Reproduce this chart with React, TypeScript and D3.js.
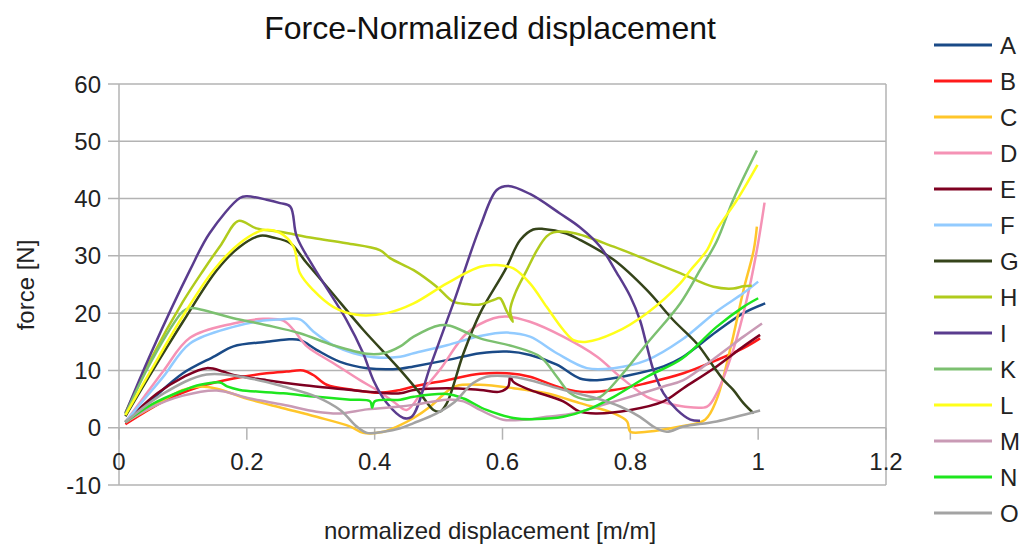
import * as d3 from "d3";

// x = normalized displacement [m/m], y = force [N]
const seriesNames = ["A", "B", "C", "D", "E", "F", "G", "H", "I", "K", "L", "M", "N", "O"];

const seriesA = [[0.01,0.9],[0.05,4.8],[0.1,9.5],[0.15,12.5],[0.179,14.2],[0.231,15],[0.262,15.4],[0.283,15.3],[0.309,13.6],[0.346,11.5],[0.388,10.4],[0.44,10.3],[0.461,10.7],[0.513,11.8],[0.565,13],[0.607,13.3],[0.643,12.7],[0.685,11],[0.721,8.6],[0.748,8.3],[0.8,9.2],[0.852,10.7],[0.88,12.2],[0.935,16.8],[0.977,20],[1.011,21.7]];
const seriesB = [[0.01,0.6],[0.075,4.9],[0.127,7.2],[0.179,8.6],[0.231,9.5],[0.262,9.8],[0.288,10],[0.304,9.2],[0.325,7.5],[0.367,6.6],[0.408,6.1],[0.44,6.6],[0.461,7.2],[0.513,8.3],[0.565,9.4],[0.607,9.5],[0.643,8.9],[0.685,7.2],[0.721,6.3],[0.774,6.6],[0.826,7.8],[0.883,9.5],[0.935,11.8],[0.977,13.9],[1.003,15.6]];
const seriesC = [[0.01,1],[0.05,3.5],[0.1,6.6],[0.127,7.2],[0.153,6.8],[0.205,4.9],[0.257,3.4],[0.309,1.9],[0.362,0.2],[0.382,-0.9],[0.414,-0.7],[0.435,0.2],[0.461,1.7],[0.487,3.7],[0.513,6.3],[0.528,7.3],[0.565,7.5],[0.617,6.9],[0.669,6],[0.721,4.3],[0.774,2.5],[0.795,1.1],[0.8,-0.7],[0.826,-0.7],[0.878,0.2],[0.917,1.4],[0.935,4.9],[0.956,13.6],[0.977,24],[0.993,31],[0.998,35.1]];
const seriesD = [[0.01,1],[0.04,5.5],[0.07,10],[0.111,15.7],[0.179,18.2],[0.226,19],[0.257,18.7],[0.273,17.1],[0.294,14.2],[0.335,11.3],[0.377,8.3],[0.403,6.6],[0.43,4.5],[0.45,3.1],[0.476,6.6],[0.502,10.1],[0.544,16.5],[0.586,19.1],[0.607,19.4],[0.643,18.5],[0.695,15.9],[0.748,12.4],[0.784,8.9],[0.826,5.4],[0.857,4.3],[0.883,3.7],[0.92,3.7],[0.935,6],[0.961,13.6],[0.982,22.3],[0.998,31],[1.01,39.3]];
const seriesE = [[0.01,1],[0.06,6],[0.1,8.8],[0.137,10.4],[0.163,9.8],[0.179,9.2],[0.231,8.3],[0.283,7.5],[0.335,6.9],[0.388,6.3],[0.44,6],[0.461,6.6],[0.513,6.9],[0.565,6.6],[0.596,6.3],[0.609,7.2],[0.612,8.9],[0.617,8],[0.643,6.6],[0.695,4.6],[0.721,2.8],[0.748,2.5],[0.8,3.1],[0.852,4.6],[0.883,6.9],[0.935,10.7],[0.977,14.2],[1.003,16.2]];
const seriesF = [[0.01,1],[0.04,5],[0.07,9],[0.111,14.7],[0.179,17.6],[0.226,18.7],[0.252,18.9],[0.283,18.9],[0.304,16.8],[0.335,14.4],[0.367,13],[0.398,12.3],[0.44,12.4],[0.461,13],[0.513,14.4],[0.565,16],[0.607,16.6],[0.643,15.9],[0.685,13],[0.732,10.4],[0.774,10.4],[0.826,11.8],[0.88,15.3],[0.935,20.3],[0.977,23.5],[1.0,25.5]];
const seriesG = [[0.01,2],[0.05,9.5],[0.1,18.5],[0.153,27.5],[0.189,31.6],[0.221,33.5],[0.241,33.2],[0.268,32.2],[0.294,28.7],[0.33,24],[0.382,17.1],[0.435,10.7],[0.471,6],[0.492,3.1],[0.502,2.8],[0.513,4.3],[0.539,13],[0.565,20],[0.604,27.5],[0.628,32.8],[0.648,34.6],[0.664,34.7],[0.7,33.9],[0.721,32.8],[0.774,29.3],[0.826,24],[0.867,18.8],[0.904,14.7],[0.93,10.7],[0.946,8.3],[0.961,6.6],[0.977,4.3],[0.993,2.5]];
const seriesH = [[0.01,2.6],[0.05,12],[0.1,22],[0.132,27.5],[0.16,32],[0.187,36.1],[0.215,34.8],[0.252,34.2],[0.304,33.1],[0.356,32.2],[0.408,31],[0.424,29.6],[0.461,27.5],[0.497,24.6],[0.523,22],[0.544,21.6],[0.565,21.5],[0.586,22.3],[0.596,22.6],[0.606,20.5],[0.616,18.5],[0.612,20.5],[0.62,23.5],[0.638,27.5],[0.654,31],[0.669,33.4],[0.68,34.1],[0.711,34],[0.774,31.6],[0.826,29.3],[0.878,27],[0.93,24.6],[0.961,24.3],[0.977,24.7],[0.99,24.8]];
const seriesI = [[0.01,2.5],[0.05,13],[0.111,27.5],[0.142,34],[0.189,40.1],[0.2,40.4],[0.231,39.8],[0.252,39.2],[0.268,38.6],[0.278,33.4],[0.304,28.1],[0.356,18.8],[0.382,13],[0.398,8.3],[0.419,4.3],[0.445,1.7],[0.458,1.9],[0.487,10.7],[0.523,21.7],[0.565,35.1],[0.591,41.5],[0.609,42.2],[0.643,40.8],[0.69,37.4],[0.721,35],[0.753,31.6],[0.779,27],[0.8,22.9],[0.815,18.8],[0.826,14.2],[0.836,10.1],[0.852,6],[0.873,3.1],[0.894,1.4],[0.909,1.2]];
const seriesK = [[0.01,2.3],[0.05,11.5],[0.1,20.3],[0.111,20.9],[0.179,19.1],[0.231,17.9],[0.283,16.5],[0.335,14.4],[0.388,12.9],[0.414,13],[0.44,14.2],[0.461,15.9],[0.502,17.9],[0.518,17.8],[0.565,15.6],[0.617,14.2],[0.659,12.4],[0.685,8.9],[0.706,6],[0.732,4.9],[0.753,5.4],[0.784,8.9],[0.826,14.7],[0.878,21.7],[0.909,27.5],[0.935,32.5],[0.961,39.8],[0.998,48.4]];
const seriesL = [[0.01,2.2],[0.05,10],[0.1,19.5],[0.148,27.5],[0.189,32.2],[0.226,34.5],[0.252,34],[0.273,31.6],[0.283,27],[0.304,24],[0.335,21.1],[0.372,19.7],[0.419,20],[0.461,21.7],[0.513,25.2],[0.565,28.1],[0.591,28.4],[0.617,27.8],[0.643,25.2],[0.669,21.1],[0.695,17.1],[0.711,15.3],[0.732,15],[0.774,16.5],[0.826,20],[0.878,25.2],[0.894,27.5],[0.92,31],[0.935,34.5],[0.967,39.8],[0.999,45.9]];
const seriesM = [[0.01,0.9],[0.05,3.5],[0.1,5.6],[0.153,6.5],[0.205,5.1],[0.257,4],[0.309,2.8],[0.346,2.5],[0.388,3.2],[0.44,3.7],[0.461,4],[0.513,4.9],[0.539,4.6],[0.565,3.1],[0.601,1.4],[0.633,1.4],[0.669,1.9],[0.711,2.5],[0.748,3.7],[0.8,5.4],[0.852,7.2],[0.883,8.3],[0.935,12.4],[0.977,15.9],[1.006,18.2]];
const seriesN = [[0.01,1],[0.05,4],[0.1,6.5],[0.127,7.5],[0.158,7.9],[0.169,7.2],[0.189,6.6],[0.257,6],[0.309,5.4],[0.362,4.9],[0.393,4.6],[0.396,3.5],[0.4,4.6],[0.44,4.9],[0.461,5.4],[0.513,5.9],[0.539,5.1],[0.575,3.1],[0.617,1.7],[0.654,1.5],[0.695,1.9],[0.732,3.1],[0.774,5.4],[0.826,8.9],[0.88,12],[0.935,17.6],[0.977,21.1],[1.0,22.6]];
const seriesO = [[0.01,1],[0.07,6],[0.137,9.3],[0.205,8.6],[0.257,7.2],[0.309,5.4],[0.346,3.1],[0.372,0.2],[0.388,-0.9],[0.414,-0.7],[0.44,-0.1],[0.461,0.8],[0.497,2.5],[0.523,4.3],[0.554,7.8],[0.575,8.9],[0.607,9],[0.643,8.3],[0.695,6.6],[0.748,5.1],[0.784,3.7],[0.815,1.9],[0.836,0.2],[0.857,-0.7],[0.883,0.2],[0.935,1.1],[1.003,3]];

const seriesValues = [seriesA, seriesB, seriesC, seriesD, seriesE, seriesF, seriesG, seriesH, seriesI, seriesK, seriesL, seriesM, seriesN, seriesO];

const yTicks = [60, 50, 40, 30, 20, 10, 0, -10];
const xTicks = [0, 0.2, 0.4, 0.6, 0.8, 1, 1.2];

const colors = ["#1a4a87", "#ff1a1a", "#ffc62a", "#f592b5", "#7e0021", "#92cbff", "#35441a", "#b0cb1c", "#5a3c8e", "#7cc070", "#ffff1a", "#c99ab5", "#1ee61e", "#a3a3a3"];

const font = "'Liberation Sans', Arial, sans-serif";
const gridColor = "#b3b3b3";

const width = 1024;
const height = 548;

export default function App() {
  const xScale = d3.scaleLinear().domain([0, 1.2]).range([119, 886]);
  const yScale = d3.scaleLinear().domain([-10, 60]).range([485, 84]);

  const line = d3
    .line<number[]>()
    .x((d) => xScale(d[0]))
    .y((d) => yScale(d[1]))
    .curve(d3.curveCatmullRom.alpha(0.5));

  return (
    <svg
      width={width}
      height={height}
      style={{ position: "absolute", left: 0, top: 0, background: "#fff" }}
      fontFamily={font}
    >
      <rect width={width} height={height} fill="#fff" />
      <text x={490} y={39} textAnchor="middle" fontSize={32} fill="#111">
        Force-Normalized displacement
      </text>

      {/* grid + y ticks */}
      {yTicks.map((t) => (
        <g key={t}>
          <line x1={108} x2={xScale(1.2)} y1={yScale(t)} y2={yScale(t)} stroke={gridColor} strokeWidth={1.5} />
          <text x={101} y={yScale(t)} dy="0.36em" textAnchor="end" fontSize={24} fill="#222">
            {String(t)}
          </text>
        </g>
      ))}
      <line x1={xScale(0)} x2={xScale(0)} y1={yScale(60)} y2={yScale(-10)} stroke={gridColor} strokeWidth={1.5} />
      <line x1={xScale(1.2)} x2={xScale(1.2)} y1={yScale(60)} y2={yScale(-10)} stroke={gridColor} strokeWidth={1.5} />

      {/* x ticks on zero line */}
      {xTicks.map((t) => (
        <g key={t}>
          <line x1={xScale(t)} x2={xScale(t)} y1={yScale(0)} y2={yScale(0) + 12} stroke={gridColor} strokeWidth={1.5} />
          <text x={xScale(t)} y={470} textAnchor="middle" fontSize={24} fill="#222">
            {String(t)}
          </text>
        </g>
      ))}

      {seriesValues.map((pts, i) => (
        <path key={seriesNames[i]} d={line(pts) || ""} fill="none" stroke={colors[i]} strokeWidth={2.5} strokeLinejoin="round" />
      ))}

      <text x={490} y={539} textAnchor="middle" fontSize={24} fill="#222">
        normalized displacement [m/m]
      </text>
      <text transform="translate(34,285) rotate(-90)" textAnchor="middle" fontSize={24} fill="#222">
        force [N]
      </text>

      {/* legend */}
      {seriesNames.map((name, i) => (
        <g key={name} transform={`translate(0,${45 + i * 36})`}>
          <line x1={934} x2={992} y1={0} y2={0} stroke={colors[i]} strokeWidth={3} />
          <text x={1000} y={0} dy="0.36em" fontSize={24} fill="#222">
            {name}
          </text>
        </g>
      ))}
    </svg>
  );
}
